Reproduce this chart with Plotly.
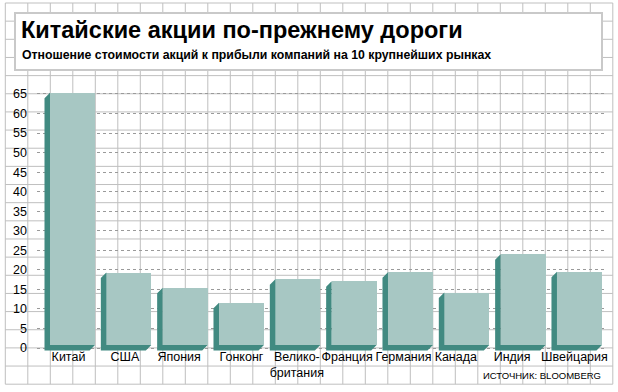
import plotly.graph_objects as go

# ---------------- data ----------------
categories = ["Китай", "США", "Япония", "Гонконг", "Велико-<br>британия",
              "Франция", "Германия", "Канада", "Индия", "Швейцария"]
pe_ratio = [65.3, 19.3, 15.4, 11.6, 17.6, 17.1, 19.4, 14.2, 24.0, 19.5]
y_ticks = [0, 5, 10, 15, 20, 25, 30, 35, 40, 45, 50, 55, 60, 65]

title = "Китайские акции по-прежнему дороги"
subtitle = "Отношение стоимости акций к прибыли компаний на 10 крупнейших рынках"
source = "ИСТОЧНИК: BLOOMBERG"

# ---------------- style / layout ----------------
W, H = 618, 392
PL, PR, PT, PB = 37, 605, 90, 353       # plot area in pixels
PITCH, C0 = 56.33, 72.5                 # px per category, px of first center
ZERO_PX, PX_PER_UNIT = 348, 3.908
label_nudge_px = [-4, -4, -6, 0, -1, -7, -7, -11, -11, -5]   # label offsets (style)

FACE = "#a7c7c3"
SIDE = "#418a81"
GRID_PAPER = "#bfbfbf"
LABEL_FONT = "Liberation Sans, Arial, sans-serif"

x_range = [(PL - C0) / PITCH, (PR - C0) / PITCH]
y_range = [(ZERO_PX - PB) / PX_PER_UNIT, (ZERO_PX - PT) / PX_PER_UNIT]

bar_w = 45 / PITCH
dx = 5.5 / PITCH          # extrusion to the left (data units)
dy = 5.5 / PX_PER_UNIT    # extrusion downwards (data units)
lift = 3 / PX_PER_UNIT    # face raised above zero line

idx = list(range(len(categories)))

# extrusion polygons (side + bottom)
ex, ey = [], []
for i, v in zip(idx, pe_ratio):
    L, R = i - bar_w / 2, i + bar_w / 2
    T, B = v, lift
    ex += [L, L - dx, L - dx, R - dx, R, L, None]
    ey += [T, T - dy, B - dy, B - dy, B, B, None]

fig = go.Figure()
fig.add_trace(go.Scatter(x=ex, y=ey, mode="lines", fill="toself",
                         fillcolor=SIDE, line=dict(width=0, color=SIDE),
                         hoverinfo="skip", showlegend=False))
fig.add_trace(go.Bar(x=idx, y=[v - lift for v in pe_ratio], base=lift,
                     width=bar_w, marker=dict(color=FACE, line=dict(width=0)),
                     showlegend=False))

def px2paper_x(px):
    return (px - PL) / (PR - PL)

def px2paper_y(py):
    return (PB - py) / (PB - PT)

shapes = []
# graph-paper background
gx0, gx1, gy0, gy1 = 5.3, 612.8, 3.0, 384.2
ncols, nrows = 27, 21
for k in range(ncols + 1):
    x = gx0 + (gx1 - gx0) * k / ncols
    shapes.append(dict(type="line", xref="paper", yref="paper", layer="below",
                       x0=px2paper_x(x), x1=px2paper_x(x),
                       y0=px2paper_y(gy0), y1=px2paper_y(gy1),
                       line=dict(color=GRID_PAPER, width=1)))
for k in range(nrows + 1):
    y = gy0 + (gy1 - gy0) * k / nrows
    shapes.append(dict(type="line", xref="paper", yref="paper", layer="below",
                       x0=px2paper_x(gx0), x1=px2paper_x(gx1),
                       y0=px2paper_y(y), y1=px2paper_y(y),
                       line=dict(color=GRID_PAPER, width=1)))
# white title box
shapes.append(dict(type="rect", xref="paper", yref="paper", layer="below",
                   x0=px2paper_x(15), x1=px2paper_x(602),
                   y0=px2paper_y(13), y1=px2paper_y(70),
                   fillcolor="white", line=dict(color="#c9c9c9", width=2)))

annotations = [
    dict(text="<b>" + title + "</b>", xref="paper", yref="paper",
         x=px2paper_x(19), y=px2paper_y(30), xanchor="left", yanchor="middle",
         showarrow=False, font=dict(family="Liberation Sans, Arial, sans-serif",
                                    size=23.5, color="black")),
    dict(text="<b>" + subtitle + "</b>", xref="paper", yref="paper",
         x=px2paper_x(20), y=px2paper_y(55), xanchor="left", yanchor="middle",
         showarrow=False, font=dict(family="Liberation Sans, Arial, sans-serif",
                                    size=12.3, color="black")),
    dict(text=source, xref="paper", yref="paper",
         x=px2paper_x(603), y=px2paper_y(375.5), xanchor="right", yanchor="middle",
         showarrow=False, font=dict(family=LABEL_FONT, size=9.5, color="black")),
]

fig.update_layout(
    width=W, height=H,
    margin=dict(l=PL, r=W - PR, t=PT, b=H - PB, pad=0, autoexpand=False),
    paper_bgcolor="white", plot_bgcolor="rgba(0,0,0,0)",
    shapes=shapes, annotations=annotations,
    bargap=0, showlegend=False,
    xaxis=dict(range=x_range, tickmode="array",
               tickvals=[i + n / PITCH for i, n in zip(idx, label_nudge_px)],
               ticktext=categories,
               tickangle=0, automargin=False,
               showgrid=False, zeroline=False, showline=False, ticks="",
               ticklabelstandoff=-6,
               tickfont=dict(family=LABEL_FONT, size=12.5, color="black"),
               fixedrange=True),
    yaxis=dict(range=y_range, tickmode="array", tickvals=y_ticks,
               automargin=False,
               showgrid=True, gridcolor="#9a9a9a", gridwidth=1.3, griddash="dot",
               zeroline=False, showline=False, ticks="",
               ticklabelstandoff=9,
               tickfont=dict(family=LABEL_FONT, size=12.5, color="black"),
               fixedrange=True),
)

fig.write_html("out.html", config={"displayModeBar": False},
               post_script="document.body.style.margin='0px';")
